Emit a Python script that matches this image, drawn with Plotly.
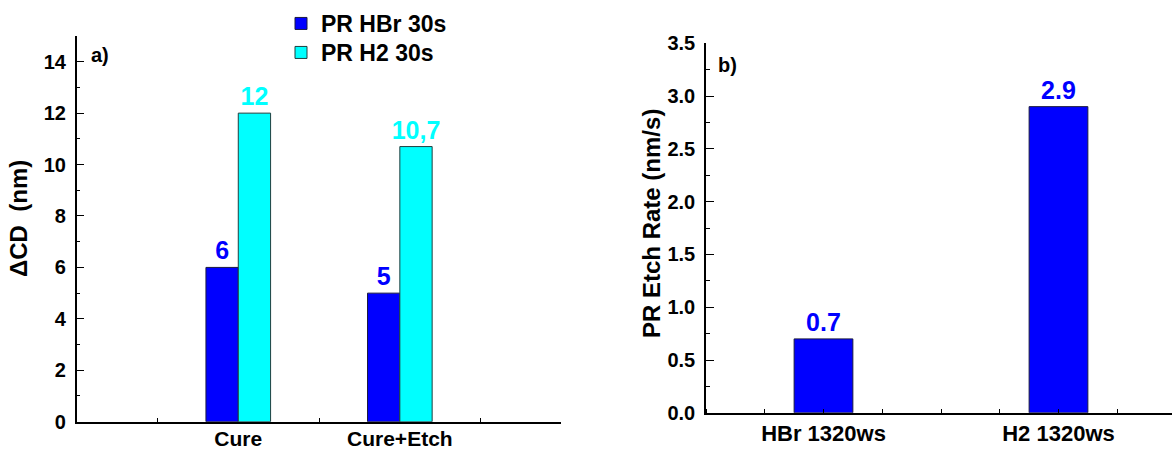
import plotly.graph_objects as go

# ---- data ----
categories_a = ["Cure", "Cure+Etch"]
hbr_30s = [6, 5]
h2_30s = [12, 10.7]
series_a_names = ["PR HBr 30s", "PR H2 30s"]

categories_b = ["HBr 1320ws", "H2 1320ws"]
etch_rate = [0.7, 2.9]

title_a = "ΔCD\u00a0\u00a0(nm)"
title_b = "PR Etch Rate (nm/s)"

BLUE = "#0000FF"
CYAN = "#00FFFF"
FONT = "Liberation Sans"

def fmt_comma(v):
    return ("{:g}".format(v)).replace(".", ",")

xa = list(range(len(categories_a)))
xb = list(range(len(categories_b)))

fig = go.Figure()

valfont = 25
fig.add_trace(go.Bar(
    x=xa, y=hbr_30s, name=series_a_names[0], width=0.2, offset=-0.2,
    marker=dict(color=BLUE, line=dict(color="#1a1a40", width=1)),
    text=[fmt_comma(v) for v in hbr_30s], textposition="outside",
    textfont=dict(family=FONT, size=valfont, color=BLUE, weight="bold"),
    constraintext="none", cliponaxis=False, legend="legend",
    xaxis="x", yaxis="y",
))
fig.add_trace(go.Bar(
    x=xa, y=h2_30s, name=series_a_names[1], width=0.2, offset=0,
    marker=dict(color=CYAN, line=dict(color="#1f3f3f", width=1)),
    text=[fmt_comma(v) for v in h2_30s], textposition="outside",
    textfont=dict(family=FONT, size=valfont, color=CYAN, weight="bold"),
    constraintext="none", cliponaxis=False, legend="legend2",
    xaxis="x", yaxis="y",
))
fig.add_trace(go.Bar(
    x=xb, y=etch_rate, name="PR Etch Rate", width=0.25, offset=-0.125,
    marker=dict(color=BLUE, line=dict(color="#1a1a40", width=1)),
    text=["{:g}".format(v) for v in etch_rate], textposition="outside",
    textfont=dict(family=FONT, size=valfont, color=BLUE, weight="bold"),
    constraintext="none", cliponaxis=False, showlegend=False,
    xaxis="x2", yaxis="y2",
))

tickfont = dict(family=FONT, size=20, color="black", weight="bold")
catfont_a = dict(family=FONT, size=21, color="black", weight="bold")
catfont_b = dict(family=FONT, size=22, color="black", weight="bold")
titlefont = dict(family=FONT, size=24, color="black", weight="bold")
legfont = dict(family=FONT, size=23, color="black", weight="bold")

W, H = 1172, 451
def px_x(p): return p / W
def px_y(p): return (H - p) / H

fig.update_layout(
    width=W, height=H,
    margin=dict(l=0, r=0, t=0, b=0, autoexpand=False),
    paper_bgcolor="white", plot_bgcolor="white",
    barmode="overlay",
    font=dict(family=FONT, color="black"),
    xaxis=dict(
        domain=[px_x(76.7), px_x(561.4)], range=[-1, 2], anchor="y", automargin=False,
        tickvals=xa, ticktext=categories_a, ticks="", tickfont=catfont_a,
        ticklabelstandoff=-3,
        showline=True, linecolor="black", linewidth=1.5, showgrid=False, zeroline=False,
        minor=dict(tick0=0.5, dtick=1, ticks="inside", ticklen=4, tickcolor="black", tickwidth=1),
    ),
    yaxis=dict(
        domain=[px_y(421.7), px_y(36)], range=[0, 15], anchor="x", automargin=False,
        tickvals=[0, 2, 4, 6, 8, 10, 12, 14], ticks="inside", ticklen=8, tickwidth=1.3,
        tickcolor="black", tickfont=tickfont, ticklabelstandoff=5,
        showline=True, linecolor="black", linewidth=1.5, showgrid=False, zeroline=False,
        minor=dict(tick0=0, dtick=1, ticks="inside", ticklen=4, tickcolor="black", tickwidth=1),
    ),
    xaxis2=dict(
        domain=[px_x(706), 1.0], range=[-0.5, 1.483], anchor="y2", automargin=False,
        tickvals=xb, ticktext=categories_b, ticks="", tickfont=catfont_b,
        ticklabelstandoff=0,
        showline=True, linecolor="black", linewidth=1.5, showgrid=False, zeroline=False,
        minor=dict(tick0=0, dtick=0.25, ticks="inside", ticklen=4, tickcolor="black", tickwidth=1),
    ),
    yaxis2=dict(
        domain=[px_y(412.8), px_y(43.3)], range=[0, 3.5], anchor="x2", automargin=False,
        tickvals=[0, 0.5, 1.0, 1.5, 2.0, 2.5, 3.0, 3.5], tickformat=".1f",
        ticks="inside", ticklen=8, tickwidth=1.3,
        tickcolor="black", tickfont=tickfont, ticklabelstandoff=5,
        showline=True, linecolor="black", linewidth=1.5, showgrid=False, zeroline=False,
        minor=dict(tick0=0, dtick=0.25, ticks="inside", ticklen=4, tickcolor="black", tickwidth=1),
    ),
    legend=dict(
        x=px_x(281), y=px_y(2), xanchor="left", yanchor="top",
        font=legfont, bgcolor="rgba(0,0,0,0)", borderwidth=0,
    ),
    legend2=dict(
        x=px_x(281), y=px_y(31), xanchor="left", yanchor="top",
        font=legfont, bgcolor="rgba(0,0,0,0)", borderwidth=0,
    ),
    annotations=[
        dict(text="a)", x=px_x(89), y=px_y(55), xref="paper", yref="paper",
             xanchor="left", yanchor="middle", showarrow=False,
             font=dict(family=FONT, size=20, color="black", weight="bold")),
        dict(text="b)", x=px_x(716), y=px_y(65), xref="paper", yref="paper",
             xanchor="left", yanchor="middle", showarrow=False,
             font=dict(family=FONT, size=20, color="black", weight="bold")),
        dict(text=title_a, x=px_x(18), y=px_y(219), xref="paper", yref="paper",
             xanchor="center", yanchor="middle", textangle=-90, showarrow=False,
             font=titlefont),
        dict(text=title_b, x=px_x(651), y=px_y(224), xref="paper", yref="paper",
             xanchor="center", yanchor="middle", textangle=-90, showarrow=False,
             font=titlefont),
    ],
)

fig.write_html("out.html", config={"displayModeBar": False},
               post_script="document.body.style.margin='0';")
